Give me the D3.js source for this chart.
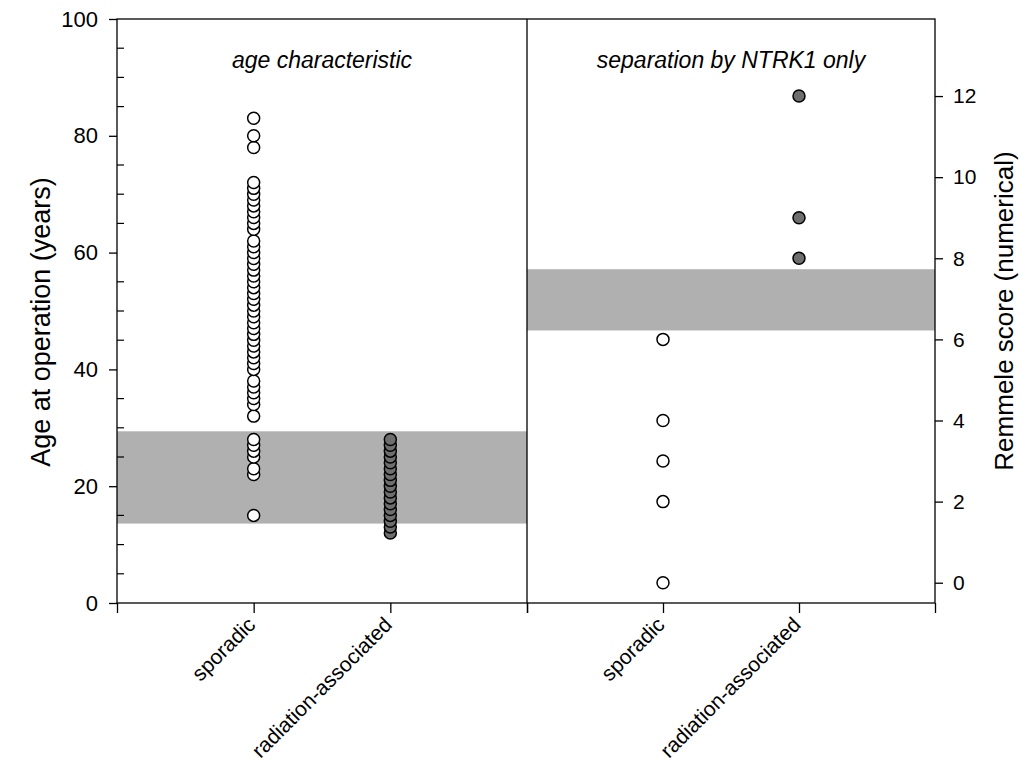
<!DOCTYPE html>
<html><head><meta charset="utf-8">
<script src="https://cdn.jsdelivr.net/npm/d3@7"></script>
<style>body{margin:0;background:#fff}svg{display:block}text{font-family:"Liberation Sans",Arial,sans-serif}</style>
</head><body><svg id="c" width="1033" height="767"></svg>
<script>
const categories = ["sporadic", "radiation-associated"];
const panelTitles = ["age characteristic", "separation by NTRK1 only"];
const ageSporadic = [15,22,23,25,26,27,28,32,34,35,36,37,38,40,41,42,43,44,45,46,47,48,49,50,51,52,53,54,55,56,57,58,59,60,61,62,64,65,66,67,68,69,70,71,72,78,80,83];
const ageRadiation = [12,13,14,15,16,17,18,19,20,21,22,23,24,25,26,27,28];
const scoreSporadic = [0,2,3,4,6];
const scoreRadiation = [8,9,12];
const ageBand = [13.6, 29.4];
const scoreBand = [6.22, 7.73];
const ageTicks = [0,20,40,60,80,100];
const scoreTicks = [0,2,4,6,8,10,12];

const svg = d3.select("#c");
const L = 117, M = 527, R = 935, T = 19, B = 603;
const yAge = d3.scaleLinear().domain([0,100]).range([B,T]);
const yScore = d3.scaleLinear().domain([-0.5,13.9]).range([B,T]);
const xL = d3.scaleLinear().domain([0,3]).range([L,M]);
const xR = d3.scaleLinear().domain([0,3]).range([M,R]);

// bands
svg.append("rect").attr("x",L).attr("width",M-L).attr("y",yAge(ageBand[1])).attr("height",yAge(ageBand[0])-yAge(ageBand[1])).attr("fill","#b0b0b0");
svg.append("rect").attr("x",M).attr("width",R-M).attr("y",yScore(scoreBand[1])).attr("height",yScore(scoreBand[0])-yScore(scoreBand[1])).attr("fill","#b0b0b0");

// frame
const fr = svg.append("g").attr("stroke","#000").attr("stroke-width",1.3).attr("fill","none");
fr.append("rect").attr("x",L).attr("y",T).attr("width",R-L).attr("height",B-T);
fr.append("line").attr("x1",M).attr("x2",M).attr("y1",T).attr("y2",B);

// left axis
const gl = svg.append("g").attr("transform",`translate(${L},0)`);
gl.call(d3.axisLeft(yAge).tickValues(ageTicks).tickSize(8).tickPadding(11));
gl.call(g=>g.select(".domain").remove());
gl.selectAll("text").attr("font-size",22).attr("fill","#000");
gl.selectAll(".tick line").attr("stroke","#000").attr("stroke-width",1.3);
const minor = d3.range(0,101,5).filter(v=>v%20!==0);
gl.selectAll("line.minor").data(minor).join("line").attr("class","minor")
  .attr("x1",0).attr("x2",7).attr("y1",d=>yAge(d)).attr("y2",d=>yAge(d)).attr("stroke","#000").attr("stroke-width",1.2);

// right axis
const gr = svg.append("g").attr("transform",`translate(${R},0)`);
gr.call(d3.axisRight(yScore).tickValues(scoreTicks).tickSize(8).tickPadding(10));
gr.call(g=>g.select(".domain").remove());
gr.selectAll("text").attr("font-size",21).attr("fill","#000");
gr.selectAll(".tick line").attr("stroke","#000").attr("stroke-width",1.3);

// bottom axes
[xL,xR].forEach((xs)=>{
  const g = svg.append("g").attr("transform",`translate(0,${B})`);
  g.call(d3.axisBottom(xs).tickValues([0,1,2,3]).tickSize(10).tickFormat(""));
  g.select(".domain").remove();
  g.selectAll(".tick line").attr("stroke","#000").attr("stroke-width",1.3);
  g.selectAll("text.cat").data(categories).join("text").attr("class","cat")
    .attr("transform",(d,i)=>`translate(${xs(i+1)+3},${23}) rotate(-45)`)
    .attr("text-anchor","end").attr("font-size",21).attr("fill","#000").text(d=>d);
});

// titles
svg.append("text").attr("x",(L+M)/2).attr("y",68).attr("text-anchor","middle").attr("font-size",23).attr("font-style","italic").text(panelTitles[0]);
svg.append("text").attr("x",(M+R)/2).attr("y",68).attr("text-anchor","middle").attr("font-size",23).attr("font-style","italic").text(panelTitles[1]);
svg.append("text").attr("transform",`translate(50,${(T+B)/2+11}) rotate(-90)`).attr("text-anchor","middle").attr("font-size",27).text("Age at operation (years)");
svg.append("text").attr("transform",`translate(1013,${(T+B)/2}) rotate(-90)`).attr("text-anchor","middle").attr("font-size",26).text("Remmele score (numerical)");

// points
function dots(data, x, ys, fill){
  svg.append("g").selectAll("circle").data(data).join("circle")
    .attr("cx",x).attr("cy",d=>ys(d)).attr("r",6)
    .attr("fill",fill).attr("stroke","#000").attr("stroke-width",1.5);
}
dots(ageSporadic, xL(1), yAge, "#fff");
dots(ageRadiation, xL(2), yAge, "#6e6e6e");
dots(scoreSporadic, xR(1), yScore, "#fff");
dots(scoreRadiation, xR(2), yScore, "#6e6e6e");
</script></body></html>
